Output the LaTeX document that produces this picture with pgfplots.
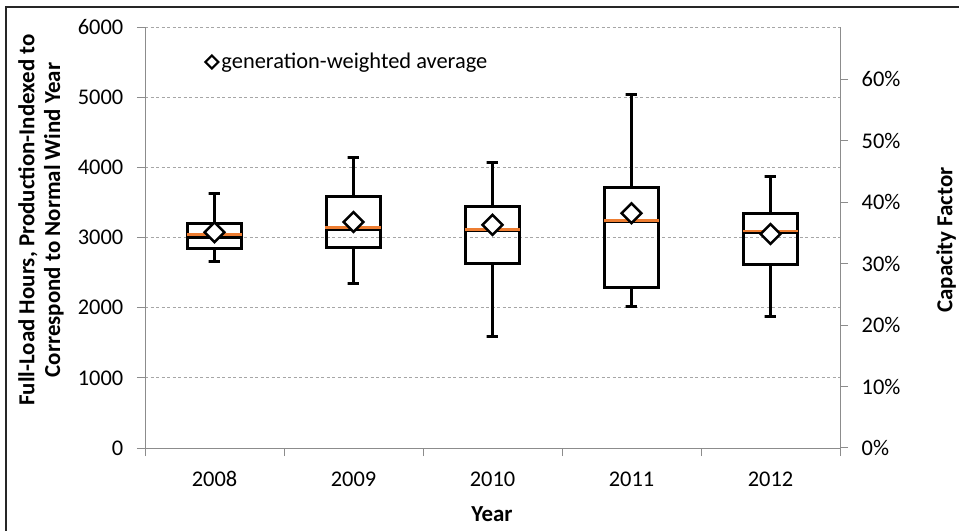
\documentclass[border=0pt]{standalone}
\usepackage{fontspec}
\setmainfont{Carlito}
\usepackage{pgfplots}
\usepackage{pgfplotstable}
\pgfplotsset{compat=1.18}
\definecolor{axgray}{HTML}{8C8C8C}
\definecolor{gridgray}{HTML}{A6A6A6}
\definecolor{medorange}{HTML}{ED7D31}
\newcommand{\chartfont}{\fontsize{22.5}{27}\selectfont}
\newcommand{\labelfont}{\bfseries\fontsize{23}{26}\selectfont}

% whiskers (lw, uw), quartiles (lq, uq), medians, generation-weighted averages
\pgfplotstableread{
x    lw    lq    med   uq    uw    orng  avg
1    2665  2845  3003  3196  3629  3045  3074
2    2351  2854  3120  3582  4147  3140  3221
3    1596  2632  3100  3439  4062  3116  3180
4    2019  2290  3232  3715  5040  3245  3345
5    1867  2615  3069  3345  3876  3093  3050
}\boxdata

\begin{document}
\chartfont
\begin{tikzpicture}
\useasboundingbox (0,0) rectangle (959bp,531bp);
\pgfplotsset{boxline/.style={forget plot, black, solid, line width=3bp, line join=miter}}
\begin{axis}[
  at={(145bp,83bp)}, anchor=south west,
  width=695bp, height=421bp, scale only axis,
  xmin=0.5, xmax=5.5, ymin=0, ymax=6000,
  axis x line*=bottom, axis y line*=left,
  axis line style={axgray, line width=1bp},
  xtick={1,...,5}, xticklabels={2008,2009,2010,2011,2012},
  minor xtick={0.5,1.5,...,5.5},
  major x tick style={draw=none},
  minor x tick style={axgray, line width=1bp},
  ytick={0,1000,...,6000},
  y tick style={axgray, line width=1bp},
  tick align=outside,
  major tick length=8bp, minor tick length=8bp,
  ymajorgrids,
  major grid style={gridgray, line width=0.8bp, dash pattern=on 3bp off 2.5bp},
  tick label style={font=\chartfont},
  /pgf/number format/assume math mode=true,
  scaled y ticks=false,
  yticklabel style={/pgf/number format/1000 sep={}, xshift=-6bp},
  xticklabel style={yshift=-8bp},
  clip=false,
  legend style={at={(rel axis cs:0.085,0.917)}, anchor=west, draw=none, fill=none,
    inner sep=0pt, font=\chartfont},
  legend image code/.code={\draw[black, line width=2.2bp, fill=white]
    (0bp,-6.5bp)--(6.5bp,0bp)--(0bp,6.5bp)--(-6.5bp,0bp)--cycle;},
]
% 2008
\addplot[boxline] coordinates {(0.805,3003) (0.805,3196) (1.195,3196) (1.195,2845) (0.805,2845) (0.805,3003) (1.195,3003)};
\addplot[boxline] coordinates {(1,3196) (1,3629) (0.9575,3629) (1.0425,3629)};
\addplot[boxline] coordinates {(1,2845) (1,2665) (0.9575,2665) (1.0425,2665)};
% 2009
\addplot[boxline] coordinates {(1.805,3120) (1.805,3582) (2.195,3582) (2.195,2854) (1.805,2854) (1.805,3120) (2.195,3120)};
\addplot[boxline] coordinates {(2,3582) (2,4147) (1.9575,4147) (2.0425,4147)};
\addplot[boxline] coordinates {(2,2854) (2,2351) (1.9575,2351) (2.0425,2351)};
% 2010
\addplot[boxline] coordinates {(2.805,3100) (2.805,3439) (3.195,3439) (3.195,2632) (2.805,2632) (2.805,3100) (3.195,3100)};
\addplot[boxline] coordinates {(3,3439) (3,4062) (2.9575,4062) (3.0425,4062)};
\addplot[boxline] coordinates {(3,2632) (3,1596) (2.9575,1596) (3.0425,1596)};
% 2011
\addplot[boxline] coordinates {(3.805,3232) (3.805,3715) (4.195,3715) (4.195,2290) (3.805,2290) (3.805,3232) (4.195,3232)};
\addplot[boxline] coordinates {(4,3715) (4,5040) (3.9575,5040) (4.0425,5040)};
\addplot[boxline] coordinates {(4,2290) (4,2019) (3.9575,2019) (4.0425,2019)};
% 2012
\addplot[boxline] coordinates {(4.805,3069) (4.805,3345) (5.195,3345) (5.195,2615) (4.805,2615) (4.805,3069) (5.195,3069)};
\addplot[boxline] coordinates {(5,3345) (5,3876) (4.9575,3876) (5.0425,3876)};
\addplot[boxline] coordinates {(5,2615) (5,1867) (4.9575,1867) (5.0425,1867)};

% orange median lines
\addplot[forget plot, medorange, line width=2.5bp] coordinates {(0.805,3045) (1.195,3045)};
\addplot[forget plot, medorange, line width=2.5bp] coordinates {(1.795,3140) (2.195,3140)};
\addplot[forget plot, medorange, line width=2.5bp] coordinates {(2.805,3116) (3.195,3116)};
\addplot[forget plot, medorange, line width=2.5bp] coordinates {(3.805,3245) (4.195,3245)};
\addplot[forget plot, medorange, line width=2.5bp] coordinates {(4.805,3093) (5.2,3093)};

% generation-weighted average
\addplot[only marks, mark=square*, mark size=7bp,
  mark options={rotate=45, fill=white, draw=black, line width=2.5bp}]
  table[x=x, y=avg] {\boxdata};
\addlegendentry{generation-weighted average}
\end{axis}

\begin{axis}[
  at={(145bp,83bp)}, anchor=south west,
  width=695bp, height=421bp, scale only axis,
  xmin=0.5, xmax=5.5, ymin=0, ymax=68.493,
  axis y line*=right, hide x axis,
  axis line style={axgray, line width=1bp},
  ytick={0,10,...,60},
  yticklabel={\pgfmathprintnumber{\tick}\%},
  y tick style={axgray, line width=1bp},
  tick align=outside, major tick length=8bp,
  tick label style={font=\chartfont},
  /pgf/number format/assume math mode=true,
  yticklabel style={xshift=6bp},
]
\addplot[draw=none, forget plot] coordinates {(1,0) (5,60)};
\end{axis}

\node[rotate=90, align=center, font=\labelfont] at (41bp,311bp)
  {Full-Load Hours, Production-Indexed to\\Correspond to Normal Wind Year};
\node[rotate=90, font=\labelfont] at (946bp,291bp) {Capacity Factor};
\node[font=\labelfont] at (492bp,17bp) {Year};
\draw[black!85, line width=1.3bp] (6bp,0bp) -- (6bp,524bp) -- (959bp,524bp);
\end{tikzpicture}
\end{document}
